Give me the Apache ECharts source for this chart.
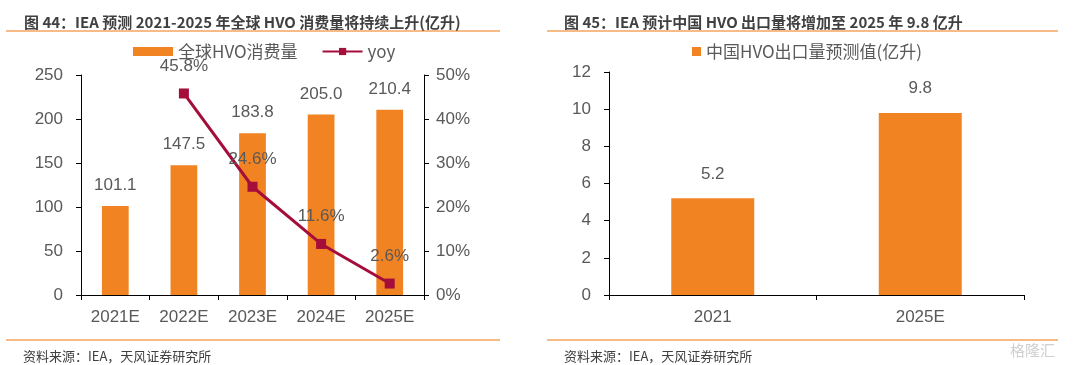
<!DOCTYPE html>
<html><head><meta charset="utf-8">
<script src="https://cdn.jsdelivr.net/npm/echarts@6/dist/echarts.min.js"></script>
<style>html,body{margin:0;padding:0;background:#fff}#c{width:1080px;height:365px}</style>
</head><body><div id="c"></div>
<script>
const leftCategories = ['2021E','2022E','2023E','2024E','2025E'];
const hvoConsumption = [101.1,147.5,183.8,205.0,210.4];
const yoyPct = [null,45.8,24.6,11.6,2.6];
const leftAxisTicks = [0,50,100,150,200,250];
const rightCategories = ['2021','2025E'];
const chinaExport = [5.2,9.8];

const FONT = '"Liberation Sans", Arial, "Noto Sans CJK SC", sans-serif';
const CJK = '"Noto Sans CJK SC", "Liberation Sans", sans-serif';
const ORANGE = '#F28322';
const RED = '#A50D3A';
const GREY = '#595959';

const chart = echarts.init(document.getElementById('c'));
const axisLine = {show:true, lineStyle:{color:'#000', width:1}};
const tick = {show:true, length:5, lineStyle:{color:'#000'}};
const tickLabel = {color:GREY, fontSize:17, fontFamily:FONT};

chart.setOption({
  animation:false,
  textStyle:{fontFamily:FONT},
  title:[
    {text:'图 44：IEA 预测 2021-2025 年全球 HVO 消费量将持续上升(亿升)', left:19, top:10,
     textStyle:{fontSize:15, fontWeight:'bold', color:'#404040', fontFamily:CJK}},
    {text:'图 45：IEA 预计中国 HVO 出口量将增加至 2025 年 9.8 亿升', left:559, top:10,
     textStyle:{fontSize:15, fontWeight:'bold', color:'#404040', fontFamily:CJK}},
    {text:'资料来源：IEA，天风证券研究所', left:18, top:345,
     textStyle:{fontSize:13, fontWeight:'normal', color:'#404040', fontFamily:CJK}},
    {text:'资料来源：IEA，天风证券研究所', left:559, top:345,
     textStyle:{fontSize:13, fontWeight:'normal', color:'#404040', fontFamily:CJK}}
  ],
  legend:[
    {left:128, top:38, itemWidth:40, itemHeight:9, itemGap:24,
     data:[{name:'全球HVO消费量', icon:'rect'}, {name:'yoy'}],
     textStyle:{color:GREY, fontSize:17, fontFamily:CJK}},
    {left:687, top:38, itemWidth:9, itemHeight:9,
     data:[{name:'中国HVO出口量预测值(亿升)', icon:'rect'}],
     textStyle:{color:GREY, fontSize:17, fontFamily:CJK}}
  ],
  grid:[
    {left:81, right:656, top:75, bottom:70},
    {left:609, right:56, top:72, bottom:70}
  ],
  xAxis:[
    {type:'category', gridIndex:0, data:leftCategories, axisLine:axisLine, axisTick:tick,
     axisLabel:Object.assign({margin:14}, tickLabel)},
    {type:'category', gridIndex:1, data:rightCategories, axisLine:axisLine, axisTick:tick,
     axisLabel:Object.assign({margin:14}, tickLabel)}
  ],
  yAxis:[
    {type:'value', gridIndex:0, min:leftAxisTicks[0], max:leftAxisTicks[leftAxisTicks.length-1], interval:50,
     axisLine:axisLine, axisTick:tick, splitLine:{show:false}, axisLabel:Object.assign({margin:18}, tickLabel)},
    {type:'value', gridIndex:0, position:'right', min:0, max:50, interval:10,
     axisLine:axisLine, axisTick:tick, splitLine:{show:false},
     axisLabel:Object.assign({margin:12, formatter:'{value}%'}, tickLabel)},
    {type:'value', gridIndex:1, min:0, max:12, interval:2,
     axisLine:axisLine, axisTick:tick, splitLine:{show:false}, axisLabel:Object.assign({margin:18}, tickLabel)}
  ],
  series:[
    {name:'全球HVO消费量', type:'bar', xAxisIndex:0, yAxisIndex:0, data:hvoConsumption,
     barWidth:'39%', itemStyle:{color:ORANGE},
     label:{show:true, position:'top', distance:12, color:GREY, fontSize:17,
            formatter:p=>p.value.toFixed(1)}},
    {name:'yoy', type:'line', xAxisIndex:0, yAxisIndex:1, data:yoyPct,
     symbol:'rect', symbolSize:10, lineStyle:{color:RED, width:3}, itemStyle:{color:RED},
     label:{show:true, position:'top', distance:14, color:GREY, fontSize:17,
            formatter:p=>p.value.toFixed(1)+'%'}},
    {name:'中国HVO出口量预测值(亿升)', type:'bar', xAxisIndex:1, yAxisIndex:2, data:chinaExport,
     barWidth:'40%', itemStyle:{color:ORANGE},
     label:{show:true, position:'top', distance:16, color:GREY, fontSize:17,
            formatter:p=>p.value.toFixed(1)}}
  ],
  graphic:[
    {type:'line', shape:{x1:6,y1:31,x2:500,y2:31}, style:{stroke:'#F4A460', lineWidth:1.5}},
    {type:'line', shape:{x1:6,y1:340,x2:500,y2:340}, style:{stroke:'#F4A460', lineWidth:1.5}},
    {type:'line', shape:{x1:547,y1:31,x2:1058,y2:31}, style:{stroke:'#F4A460', lineWidth:1.5}},
    {type:'line', shape:{x1:547,y1:340,x2:1058,y2:340}, style:{stroke:'#F4A460', lineWidth:1.5}},
    {type:'text', left:1010, top:343, style:{text:'格隆汇', fill:'#cfcfcf', fontSize:15, fontFamily:CJK}}
  ]
});
</script></body></html>
